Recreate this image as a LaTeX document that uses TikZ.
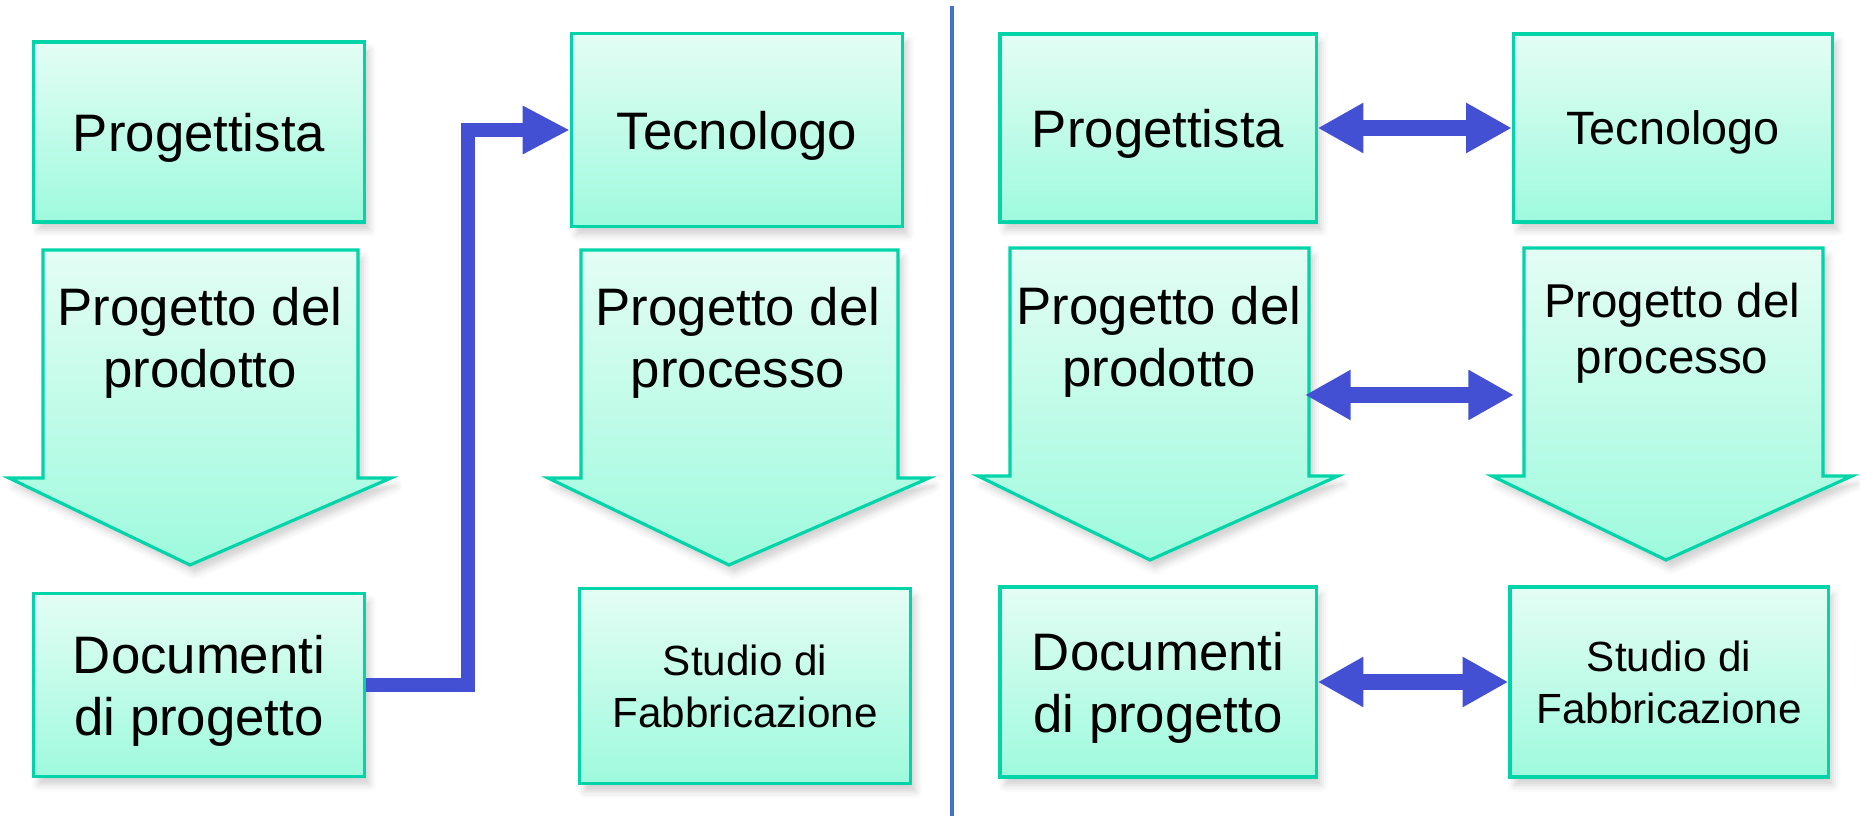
\documentclass[tikz,border=0pt]{standalone}
\usepackage{fontspec}
\setmainfont{Liberation Sans}
\usetikzlibrary{arrows.meta}
\usetikzlibrary{shadows.blur}

\definecolor{boxline}{RGB}{0,212,168}
\definecolor{boxtop}{RGB}{228,253,244}
\definecolor{boxbot}{RGB}{158,250,221}
\definecolor{linkblue}{RGB}{68,80,212}
\definecolor{divider}{RGB}{68,114,196}

\begin{document}
\begin{tikzpicture}[
     x=0.01cm, y=-0.01cm,
     soft/.style={blur shadow={shadow xshift=0.05cm, shadow yshift=-0.08cm,
       shadow blur radius=0.07cm, shadow opacity=18}},
     box/.style={draw=boxline, line width=0.9pt, top color=boxtop, bottom color=boxbot,
       soft, align=center, text depth=0pt, font=\fontsize{15}{17.6}\selectfont},
     flow/.style={draw=boxline, line width=0.9pt, top color=boxtop, bottom color=boxbot, soft},
     txt/.style={align=center, font=\fontsize{15}{17.6}\selectfont},
     small/.style={font=\fontsize{12}{14.8}\selectfont},
     link/.style={draw=linkblue, line width=4pt, line join=miter,
       -{Triangle[length=13.4pt,width=12.8pt]}},
     dbl/.style={draw=linkblue, line width=4.3pt,
       {Triangle[length=13pt,width=13.4pt]}-{Triangle[length=13pt,width=13.4pt]}}
   ]
   \path[use as bounding box] (0,0) rectangle (1860,816);
   % Sequential flow.
   \draw[flow] (43,250) -- (358,250) -- (358,478) -- (391,478) -- (190,565) -- (9,478) -- (43,478) -- cycle;
   \draw[flow] (581,250) -- (898,250) -- (898,478) -- (929,478) -- (729,565) -- (548,478) -- (581,478) -- cycle;
   \node[box, minimum width=3.31cm, minimum height=1.80cm] (prog1) at (199,132) {Progettista};
   \node[txt] (prod1) at (200,343) {Progetto del\\prodotto};
   \node[box, minimum width=3.31cm, minimum height=1.83cm] (doc1) at (199,685) {Documenti\\di progetto};
   \node[box, minimum width=3.31cm, minimum height=1.93cm] (tec1) at (737,130) {Tecnologo};
   \node[txt] (proc1) at (738,343) {Progetto del\\processo};
   \node[box, small, minimum width=3.31cm, minimum height=1.95cm] (stu1) at (745,686) {Studio di\\Fabbricazione};
   \coordinate (bend) at (468,400);
   \draw[link] (doc1.east) -| (bend) |- (tec1.west);
   % Divider.
   \draw[divider, line width=1.2pt] (952,6) -- (952,816);
   % Concurrent flow.
   \draw[flow] (1010,248) -- (1309,248) -- (1309,476) -- (1338,476) -- (1150,560) -- (978,476) -- (1010,476) -- cycle;
   \draw[flow] (1524,248) -- (1823,248) -- (1823,476) -- (1852,476) -- (1666,560) -- (1492,476) -- (1524,476) -- cycle;
   \node[box, minimum width=3.16cm, minimum height=1.88cm] (prog2) at (1158,128) {Progettista};
   \node[box, font=\fontsize{13.3}{16}\selectfont, minimum width=3.19cm, minimum height=1.88cm] (tec2) at (1673,128) {Tecnologo};
   \node[txt] (prod2) at (1159,342) {Progetto del\\prodotto};
   \node[txt, font=\fontsize{13.5}{16}\selectfont] (proc2) at (1672,333) {Progetto del\\processo};
   \node[box, minimum width=3.16cm, minimum height=1.90cm] (doc2) at (1158,682) {Documenti\\di progetto};
   \node[box, small, minimum width=3.18cm, minimum height=1.90cm] (stu2) at (1669,682) {Studio di\\Fabbricazione};
   \coordinate (m1) at (1305,395);
   \coordinate (m2) at (1514,395);
   \draw[dbl] (prog2.east) -- (tec2.west);
   \draw[dbl] (m1) -- (m2);
   \draw[dbl] (doc2.east) -- (stu2.west);
 \end{tikzpicture}
\end{document}
